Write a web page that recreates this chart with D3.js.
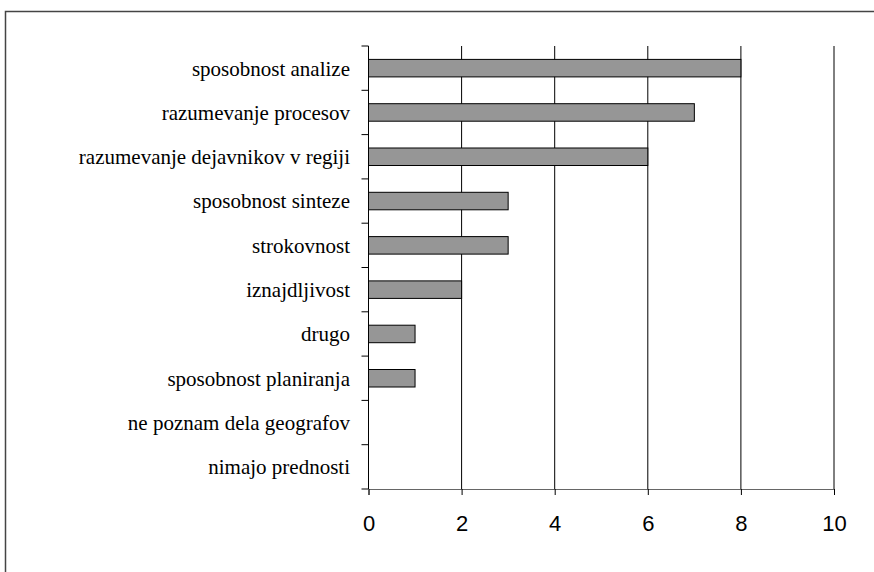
<!DOCTYPE html>
<html>
<head>
<meta charset="utf-8">
<script src="https://cdn.jsdelivr.net/npm/d3@7"></script>
<style>
body { margin: 0; background: #fff; }
</style>
</head>
<body>
<div id="container"></div>
<script>
// data
var categories = ["sposobnost analize", "razumevanje procesov", "razumevanje dejavnikov v regiji",
	"sposobnost sinteze", "strokovnost", "iznajdljivost", "drugo",
	"sposobnost planiranja", "ne poznam dela geografov", "nimajo prednosti"];
var counts = [8, 7, 6, 3, 3, 2, 1, 1, 0, 0];
var xTicks = [0, 2, 4, 6, 8, 10];

var data = categories.map(function(c, i) { return {name: c, value: counts[i]}; });

var W = 874, H = 572;
var margin = {top: 46, left: 368.5, right: 40, bottom: 83};

var svg = d3.select("#container").append("svg")
	.attr("width", W)
	.attr("height", H);

// outer chart frame (clipped by window on right/bottom)
svg.append("rect")
	.attr("x", 5.5).attr("y", 11.5)
	.attr("width", W).attr("height", H)
	.style("fill", "none")
	.style("stroke", "#444")
	.style("stroke-width", 1.5);

var x = d3.scaleLinear().domain([0, 10]).range([margin.left, 834]);
var y = d3.scaleBand().domain(categories).range([margin.top, 489]);

var g = svg.append("g");

// vertical gridlines
g.selectAll(".grid").data(xTicks.slice(1)).enter()
	.append("line")
	.attr("class", "grid")
	.attr("x1", function(d) { return x(d); })
	.attr("x2", function(d) { return x(d); })
	.attr("y1", margin.top)
	.attr("y2", 489)
	.style("stroke", "#000")
	.style("stroke-width", 1);

// bars
var barH = 17.5;
g.selectAll(".bar").data(data.filter(function(d) { return d.value > 0; })).enter()
	.append("rect")
	.attr("class", "bar")
	.attr("x", x(0))
	.attr("y", function(d) { return y(d.name) + y.bandwidth() / 2 - barH / 2; })
	.attr("width", function(d) { return x(d.value) - x(0); })
	.attr("height", barH)
	.style("fill", "#969696")
	.style("stroke", "#000")
	.style("stroke-width", 1);

// x axis
var xAxis = d3.axisBottom(x).tickValues(xTicks).tickSize(6).tickPadding(20);
var xg = svg.append("g")
	.attr("transform", "translate(0,489)")
	.call(xAxis);
xg.select(".domain").style("stroke", "#666");
xg.selectAll(".tick line").style("stroke", "#000");
xg.selectAll("text")
	.style("font-family", "'Liberation Sans', Arial, sans-serif")
	.style("font-size", "22px")
	.style("fill", "#000");

// y axis: ticks at band edges
var edges = categories.map(function(c) { return y(c); }).concat([489]);
var yg = svg.append("g");
yg.append("line")
	.attr("x1", x(0)).attr("x2", x(0))
	.attr("y1", margin.top).attr("y2", 489)
	.style("stroke", "#000");
yg.selectAll(".ytick").data(edges).enter()
	.append("line")
	.attr("x1", x(0) - 7).attr("x2", x(0))
	.attr("y1", function(d) { return d; })
	.attr("y2", function(d) { return d; })
	.style("stroke", "#000");
yg.selectAll(".ylabel").data(categories).enter()
	.append("text")
	.attr("x", 350)
	.attr("y", function(d) { return y(d) + y.bandwidth() / 2; })
	.attr("dy", "0.35em")
	.attr("text-anchor", "end")
	.attr("font-family", "Liberation Serif")
	.attr("font-size", 21)
	.attr("fill", "#000")
	.text(function(d) { return d; });
</script>
</body>
</html>
